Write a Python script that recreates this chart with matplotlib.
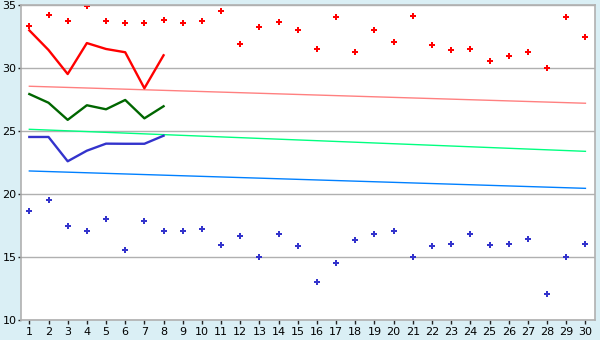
import numpy as np
import matplotlib
matplotlib.use('Agg')
import matplotlib.pyplot as plt

days = list(range(1, 31))

# daily maximum / minimum points
max_pts = [33.33, 34.2, 33.75, 34.92, 33.73, 33.57, 33.57, 33.8, 33.57, 33.73,
           34.52, 31.9, 33.25, 33.65, 33.01, 31.5, 34.05, 31.27, 33.0, 32.06,
           34.13, 31.82, 31.43, 31.5, 30.55, 30.95, 31.27, 30.0, 34.05, 32.46]
min_pts = [18.64, 19.54, 17.45, 17.05, 18.0, 15.54, 17.9, 17.05, 17.05, 17.21,
           15.94, 16.65, 14.98, 16.81, 15.86, 13.0, 14.51, 16.33, 16.81, 17.05,
           14.98, 15.86, 16.02, 16.81, 15.94, 16.02, 16.41, 12.04, 14.98, 16.02]

# current month lines (days 1-8)
line_days = [1, 2, 3, 4, 5, 6, 7, 8]
red_line = [33.01, 31.45, 29.54, 32.0, 31.53, 31.27, 28.41, 31.03]
green_line = [27.95, 27.26, 25.9, 27.06, 26.74, 27.48, 26.02, 26.98]
blue_line = [24.54, 24.54, 22.61, 23.45, 24.01, 24.0, 24.0, 24.64]

# trend lines, start and end values
trend_days = [1, 30]
trend_high = [28.57, 27.22]
trend_mid = [25.15, 23.4]
trend_low = [21.84, 20.46]

bg = '#daeff5'
grid_col = '#b0b0b0'

fig = plt.figure(figsize=(6, 3.4), dpi=100, facecolor=bg)
ax = fig.add_axes([0.0345, 0.0588, 0.9572, 0.9256])
ax.set_facecolor('white')

ax.plot(trend_days, trend_high, color='#ff8080', lw=1)
ax.plot(trend_days, trend_mid, color='#00ff80', lw=1)
ax.plot(trend_days, trend_low, color='#0080ff', lw=1)

ax.plot(line_days, red_line, color='#ff0000', lw=1.7)
ax.plot(line_days, green_line, color='#006600', lw=1.7)
ax.plot(line_days, blue_line, color='#3333cc', lw=1.7)

ax.plot(days, max_pts, ls='none', marker='P', ms=5, color='#ff0000', mew=0)
ax.plot(days, min_pts, ls='none', marker='P', ms=5, color='#3333cc', mew=0)

ax.set_xlim(0.55, 30.5)
ax.set_ylim(10, 35)
ax.set_xticks(days)
ax.set_yticks([10, 15, 20, 25, 30, 35])
ax.tick_params(labelsize=8, length=3, width=1, color='#222222', pad=2)
ax.tick_params(axis='y', length=2, pad=1)
ax.grid(axis='y', color=grid_col, lw=1)
ax.set_axisbelow(True)
for s in ax.spines.values():
    s.set_color(grid_col)
    s.set_linewidth(1.2)

fig.savefig('out.png', dpi=100, facecolor=bg)
